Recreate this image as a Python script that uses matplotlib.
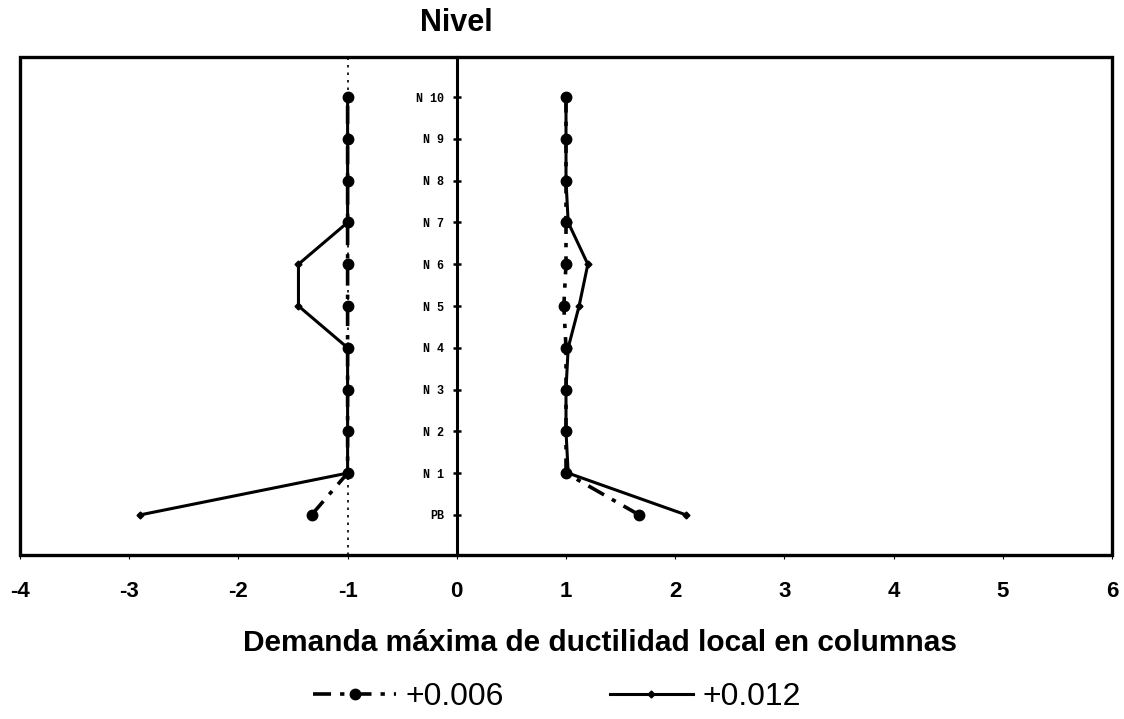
import matplotlib
matplotlib.use('Agg')
import matplotlib.pyplot as plt
from matplotlib.patches import Rectangle

# Data (PB .. N10)
levels = ['PB', 'N 1', 'N 2', 'N 3', 'N 4', 'N 5', 'N 6', 'N 7', 'N 8', 'N 9', 'N 10']
pos = list(range(len(levels)))

left_006 = [-1.33, -1.0, -1.0, -1.0, -1.0, -1.0, -1.0, -1.0, -1.0, -1.0, -1.0]
right_006 = [1.67, 1.0, 1.0, 1.0, 1.0, 0.98, 1.0, 1.0, 1.0, 1.0, 1.0]
left_012 = [-2.9, -1.0, -1.0, -1.0, -1.0, -1.45, -1.45, -1.0, -1.0, -1.0, -1.0]
right_012 = [2.1, 1.02, 1.0, 1.0, 1.02, 1.12, 1.2, 1.02, 1.0, 1.0, 1.0]

xticks = [-4, -3, -2, -1, 0, 1, 2, 3, 4, 5, 6]

plt.rcParams['font.family'] = ['Liberation Sans', 'DejaVu Sans']

fig = plt.figure(figsize=(11.24, 7.19), dpi=100)
ax = fig.add_axes([20 / 1124, 1 - 555 / 719, (1112 - 20) / 1124, (555 - 57) / 719])

ax.axvline(-1, color='k', lw=1.2, ls=(0, (1.5, 3)), zorder=1)

# +0.006 series
style006 = dict(color='k', lw=2.6, dashes=[5, 2.5, 1.2, 2.5], marker='o', ms=7.5, zorder=3)
ax.plot(left_006, pos, label='+0.006', **style006)
ax.plot(right_006, pos, **style006)

# +0.012 series
style012 = dict(color='k', lw=2.2, ls='-', marker='D', ms=3.5, zorder=4)
ax.plot(left_012, pos, label='+0.012', **style012)
ax.plot(right_012, pos, **style012)

ax.set_xlim(-4, 6)
ax.set_ylim(-0.96, 10.96)

# central axis at x = 0 carries the level labels
ax.spines['left'].set_position(('data', 0))
ax.spines['left'].set_linewidth(2.2)
for s in ['top', 'right', 'bottom']:
    ax.spines[s].set_visible(False)
ax.add_patch(Rectangle((0, 0), 1, 1, transform=ax.transAxes, fill=False,
                       lw=2.4, ec='k', clip_on=False, zorder=5))

ax.set_yticks(pos)
ax.set_yticklabels(levels, family='Liberation Mono', fontweight='bold', fontsize=8.5)
ax.tick_params(axis='y', direction='inout', length=6, width=1.8, pad=6)

ax.set_xticks(xticks)
ax.set_xticklabels([str(t) for t in xticks], fontweight='bold', fontsize=16)
ax.tick_params(axis='x', direction='out', length=3, width=0.8, pad=16)

fig.text(456.8 / 1124, 1 - 23 / 719, 'Nivel', ha='center', va='center',
         fontsize=22, fontweight='bold')
fig.text(600 / 1124, 1 - 643 / 719, 'Demanda máxima de ductilidad local en columnas',
         ha='center', va='center', fontsize=21.5, fontweight='bold')

fig.legend(loc='center', bbox_to_anchor=(557 / 1124, 1 - 697 / 719), ncol=2,
           frameon=False, fontsize=23, handlelength=2.6, columnspacing=3.3,
           handletextpad=0.3)

fig.savefig('out.png', dpi=100)
